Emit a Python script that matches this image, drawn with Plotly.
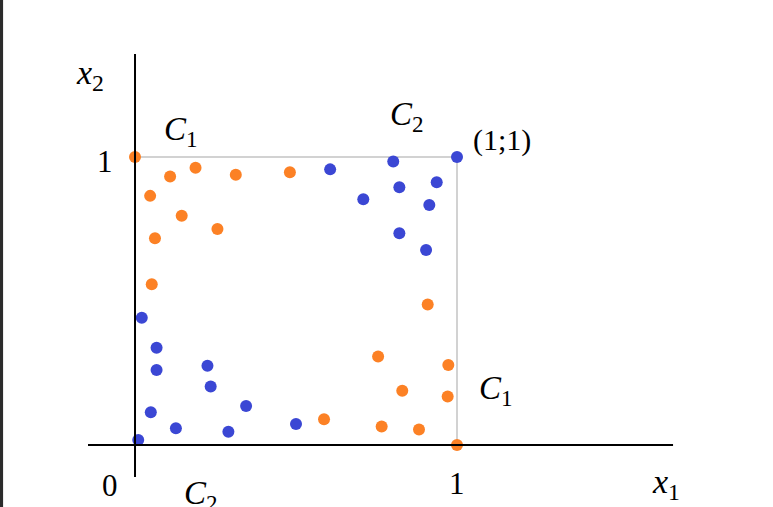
import plotly.graph_objects as go

# Orange points (x1, x2)
orange_x = [0.0, 0.109, 0.188, 0.313, 0.481, 0.047, 0.145, 0.256, 0.062, 0.052,
            0.587, 0.909, 0.755, 0.973, 0.830, 0.971, 0.766, 0.882, 1.0]
orange_y = [1.0, 0.932, 0.963, 0.938, 0.947, 0.865, 0.796, 0.750, 0.718, 0.558,
            0.089, 0.488, 0.307, 0.278, 0.188, 0.168, 0.064, 0.054, 0.0]

# Blue points (x1, x2)
blue_x = [0.606, 0.802, 1.0, 0.821, 0.937, 0.709, 0.914, 0.821, 0.904,
          0.021, 0.067, 0.067, 0.225, 0.235, 0.049, 0.345, 0.127, 0.290, 0.500, 0.010]
blue_y = [0.957, 0.984, 1.0, 0.895, 0.912, 0.853, 0.833, 0.735, 0.677,
          0.442, 0.338, 0.260, 0.275, 0.203, 0.114, 0.135, 0.058, 0.046, 0.073, 0.017]

ORANGE = "#fc8125"
BLUE = "#3b47d4"
FONT = "Liberation Serif"

fig = go.Figure()

# unit square
fig.add_shape(type="rect", x0=0, y0=0, x1=1, y1=1, xref="x", yref="y",
              line=dict(color="#c4c4c4", width=1.5), layer="below")
# axes
fig.add_shape(type="line", x0=-0.146, y0=0, x1=1.671, y1=0,
              line=dict(color="black", width=2))
fig.add_shape(type="line", x0=0, y0=-0.111, x1=0, y1=1.358,
              line=dict(color="black", width=2))
# dark strip at left edge
fig.add_shape(type="rect", xref="paper", yref="paper", x0=0, x1=0.004, y0=0, y1=1,
              line=dict(width=0), fillcolor="#2b2b2b")

fig.add_trace(go.Scatter(x=orange_x, y=orange_y, mode="markers",
                         marker=dict(color=ORANGE, size=12), showlegend=False))
fig.add_trace(go.Scatter(x=blue_x, y=blue_y, mode="markers",
                         marker=dict(color=BLUE, size=12), showlegend=False))

def ann(x, y, text, size=27, xanchor="center", yanchor="middle"):
    fig.add_annotation(x=x, y=y, text=text, showarrow=False, xanchor=xanchor,
                       yanchor=yanchor, font=dict(family=FONT, size=size, color="black"))

ann(-0.19, 1.285, "<i>x</i><sub>2</sub>", 34, "left")
ann(-0.093, 0.986, "1", 31)
ann(0.085, 1.09, "<i>C</i><sub>1</sub>", 33, "left")
ann(0.785, 1.14, "<i>C</i><sub>2</sub>", 33, "left")
ann(1.045, 1.06, "(1;1)", 30, "left")
ann(1.063, 0.19, "<i>C</i><sub>1</sub>", 33, "left")
ann(-0.078, -0.142, "0", 31)
ann(0.147, -0.175, "<i>C</i><sub>2</sub>", 33, "left")
ann(1.0, -0.132, "1", 31)
ann(1.6, -0.135, "<i>x</i><sub>1</sub>", 34, "left")

fig.update_layout(
    width=773, height=507,
    margin=dict(l=0, r=0, t=0, b=0),
    paper_bgcolor="white", plot_bgcolor="white",
    xaxis=dict(range=[-0.4193, 1.9814], visible=False, fixedrange=True),
    yaxis=dict(range=[-0.2153, 1.5451], visible=False, fixedrange=True),
)

fig.write_html("out.html", config={"displayModeBar": False},
               post_script="document.body.style.margin='0';document.body.style.overflow='hidden';")
